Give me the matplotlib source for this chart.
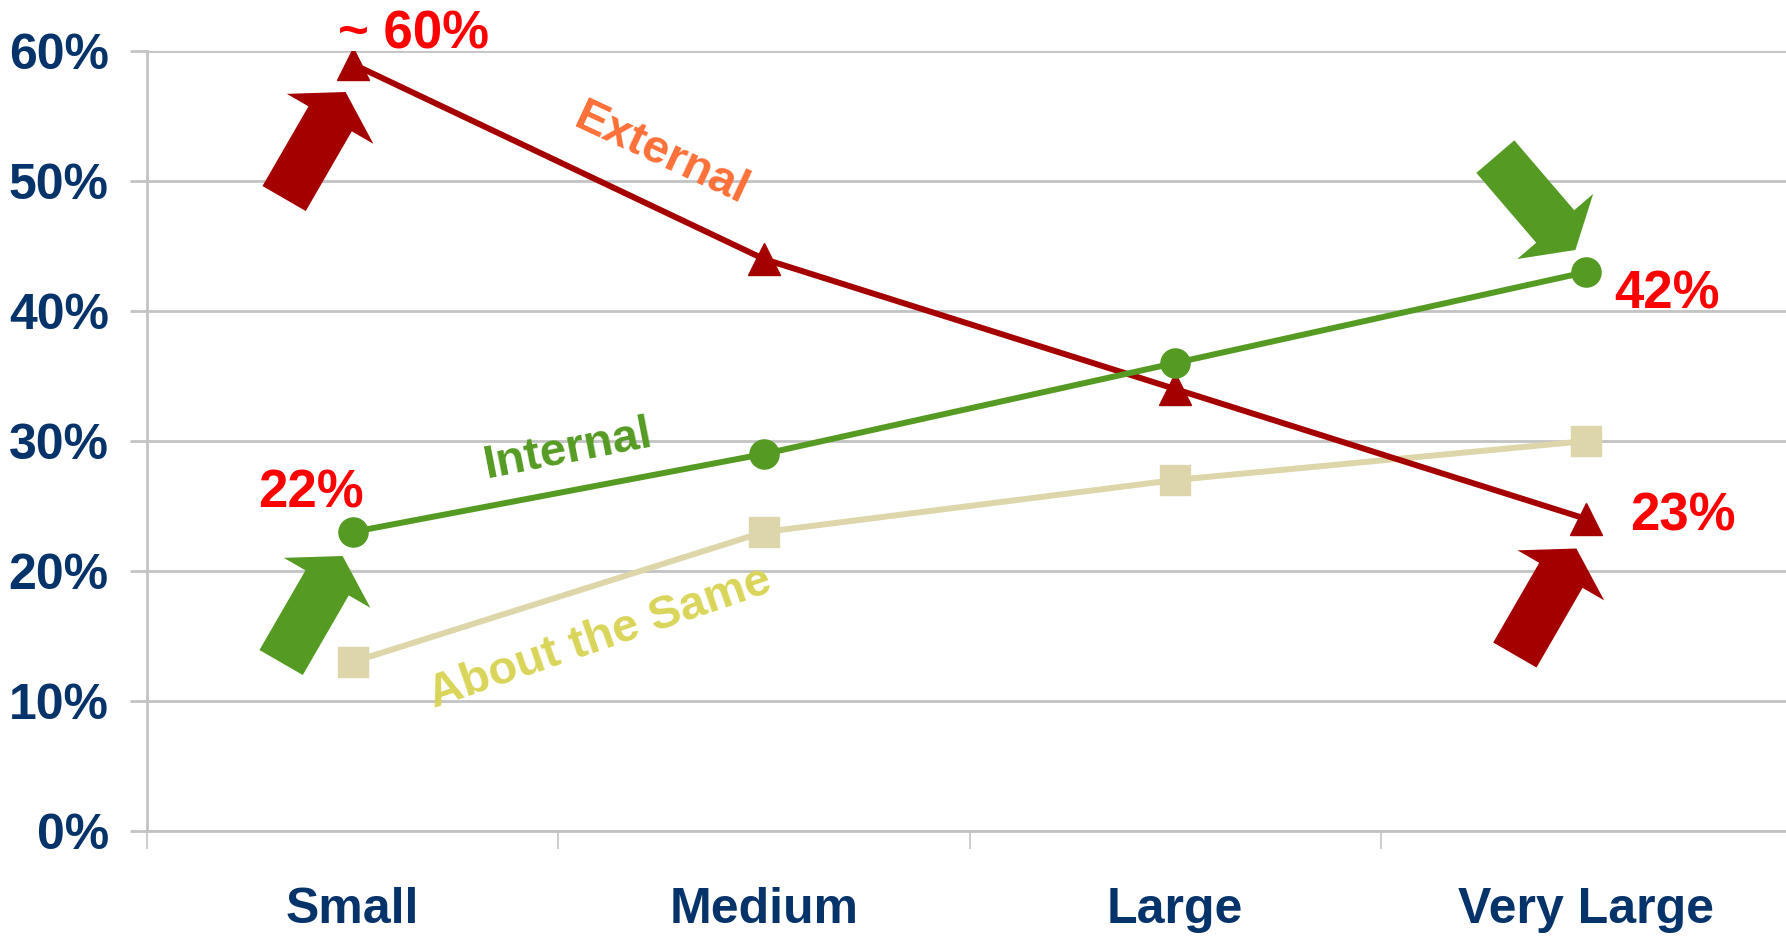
import numpy as np
import matplotlib
matplotlib.use("Agg")
import matplotlib.pyplot as plt
from matplotlib.patches import FancyArrow
from matplotlib.transforms import Affine2D, ScaledTranslation

plt.rcParams['font.family'] = ['Liberation Sans', 'DejaVu Sans']

# data
categories = ['Small', 'Medium', 'Large', 'Very Large']
external = [59, 44, 34, 24]
internal = [23, 29, 36, 43]
about_same = [13, 23, 27, 30]
y_ticks = [0, 10, 20, 30, 40, 50, 60]

NAVY = '#06336A'
RED_DARK = '#A50000'
GREEN = '#559B23'
BEIGE = '#DDD6AA'
GRID = '#C3C3C3'


def block_arrow(ax, x, y, tip_dx, tip_dy, angle, color, length=123):
    # arrow drawn in pixels, anchored to a data point
    trans = Affine2D() + ScaledTranslation(x, y, ax.transData)
    a = np.radians(angle)
    dx, dy = length * np.cos(a), length * np.sin(a)
    arr = FancyArrow(tip_dx - dx, tip_dy - dy, dx, dy, width=50,
                     head_width=100, head_length=31, length_includes_head=True,
                     transform=trans, color=color, lw=0, zorder=2)
    ax.add_patch(arr)


fig = plt.figure(figsize=(17.86, 9.36), dpi=100)
ax = fig.add_axes([147 / 1786, 105 / 936, 1645 / 1786, 780 / 936])

xs = np.arange(len(categories))
ax.plot(xs, about_same, color=BEIGE, lw=4.3, marker='s', ms=21, zorder=3)
ax.plot(xs, external, color=RED_DARK, lw=4.3, marker='^', ms=23, zorder=4)
ax.plot(xs, internal, color=GREEN, lw=4.3, marker='o', ms=21, zorder=5)

ax.set_xlim(-0.5, 3.5)
ax.set_ylim(0, 60)

# axes styling
for s in ['top', 'right']:
    ax.spines[s].set_visible(False)
for s in ['left', 'bottom']:
    ax.spines[s].set_color(GRID)
    ax.spines[s].set_linewidth(2)

ax.set_yticks(y_ticks)
ax.set_yticklabels([f'{v}%' for v in y_ticks])
ax.yaxis.grid(True, color=GRID, lw=2)
ax.set_axisbelow(True)
ax.tick_params(axis='y', length=12.5, width=2, color=GRID, pad=15,
               labelsize=36, labelcolor=NAVY)

ax.set_xticks(xs)
ax.set_xticklabels(categories)
ax.set_xticks(np.arange(-0.5, 3.6, 1), minor=True)
ax.tick_params(axis='x', which='major', length=0, pad=40, labelsize=36,
               labelcolor=NAVY)
ax.tick_params(axis='x', which='minor', length=13, width=1.2, color=GRID)
for lab in ax.get_xticklabels() + ax.get_yticklabels():
    lab.set_fontweight('bold')

# series labels
ax.text(0.752, 52.0, 'External', color='#FF7038', fontsize=34,
        fontweight='bold', rotation=-25, rotation_mode='anchor',
        ha='center', va='center')
ax.text(0.524, 29.3, 'Internal', color=GREEN, fontsize=34,
        fontweight='bold', rotation=11, rotation_mode='anchor',
        ha='center', va='center')
ax.text(0.602, 14.85, 'About the Same', color='#D9D55A', fontsize=34,
        fontweight='bold', rotation=19, rotation_mode='anchor',
        ha='center', va='center')

# callouts
callouts = [('~ 60%', 0.149, 60.2), ('22%', -0.101, 24.9),
            ('42%', 3.196, 40.2), ('23%', 3.235, 23.1)]
for txt, cx, cy in callouts:
    ax.text(cx, cy, txt, color='#FF0000', fontsize=38, fontweight='bold',
            ha='center', va='baseline', zorder=6)

block_arrow(ax, 0, external[0], -7, -28, 60, RED_DARK)
block_arrow(ax, 0, internal[0], -10, -24, 60, GREEN)
block_arrow(ax, 3, internal[3], -11, 22, -49.4, GREEN)
block_arrow(ax, 3, external[3], -10, -29.5, 60, RED_DARK)

fig.savefig('out.png', dpi=100)
